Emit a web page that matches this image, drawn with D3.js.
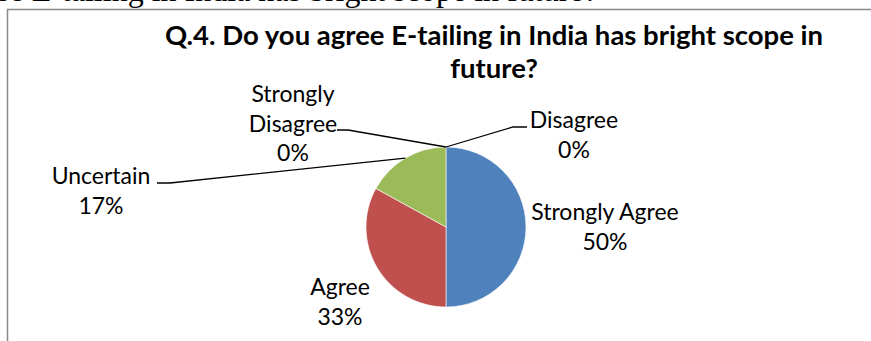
<!DOCTYPE html>
<html>
<head>
	<meta charset="utf-8">
	<script src="https://cdnjs.cloudflare.com/ajax/libs/d3/7.8.5/d3.min.js"></script>
	<style>
		body {
			margin: 0;
			background: white;
			font-family: Lato, "Open Sans", sans-serif;
		}
		svg { display: block; }
		.lbl { font-size: 23px; fill: #000; }
		.title { font-size: 27.5px; font-weight: 700; fill: #000; }
	</style>
</head>
<body>
	<svg width="871" height="341"></svg>
	<script>
	// data
	var categories = ["Strongly Agree", "Agree", "Uncertain", "Strongly Disagree", "Disagree"];
	var values = [50, 33, 17, 0, 0];
	var percentLabels = ["50%", "33%", "17%", "0%", "0%"];
	var colors = ["#4F81BD", "#C0504D", "#9BBB59", "#8064A2", "#4BACC6"];

	var titleLines = ["Q.4. Do you agree E-tailing in India has bright scope in", "future?"];

	var svg = d3.select("svg");

	// cut-off line of the surrounding document text
	svg.append("text")
		.attr("x", -3)
		.attr("y", 1)
		.style("font-family", "'Liberation Serif', 'DejaVu Serif', serif")
		.style("font-size", "32px")
		.text("se E-tailing in India has bright scope in future?");

	// chart frame (only left and top edges are visible)
	svg.append("path")
		.attr("d", "M7.5,341 V9.5 H871")
		.attr("fill", "none")
		.attr("stroke", "#898989")
		.attr("stroke-width", 1.5);

	// title
	svg.selectAll(".title")
		.data(titleLines)
		.enter()
		.append("text")
		.attr("class", "title")
		.attr("x", 494)
		.attr("y", function(d, i) { return 45 + i * 33; })
		.attr("text-anchor", "middle")
		.text(function(d) { return d; });

	//pie
	var cx = 446, cy = 227, r = 80;
	var g = svg.append("g").attr("transform", "translate(" + cx + "," + cy + ")");

	var pie = d3.pie().sort(null).value(function(d) { return d; });
	var arcs = pie(values);
	var arc = d3.arc().innerRadius(0).outerRadius(r);

	g.selectAll(".slice")
		.data(arcs)
		.enter()
		.append("path")
		.attr("class", "slice")
		.attr("d", arc)
		.attr("fill", function(d, i) { return colors[i]; })
		.attr("stroke", "white")
		.attr("stroke-width", function(d) { return d.value > 0 ? 0.6 : 0; });

	// label layout (relative to pie centre): first baseline, leader start + elbow
	var labelPos = [
		{x: 159, y: -7, lines: ["Strongly Agree"], leader: null},
		{x: -106, y: 68, lines: ["Agree"], leader: null},
		{x: -345, y: -43, lines: ["Uncertain"], leader: [-289, -44, -276, -44]},
		{x: -153, y: -125, lines: ["Strongly", "Disagree"], leader: [-109, -97, -98, -97]},
		{x: 128, y: -99, lines: ["Disagree"], leader: [81, -100, 67, -100]}
	];

	function edgePoint(d) {
		var a = (d.startAngle + d.endAngle) / 2;
		return [Math.sin(a) * r, -Math.cos(a) * r];
	}

	// leader lines
	arcs.forEach(function(d, i) {
		var p = labelPos[i];
		if (!p.leader) return;
		var e = edgePoint(d);
		g.append("polyline")
			.attr("points", [[p.leader[0], p.leader[1]], [p.leader[2], p.leader[3]], e].join(" "))
			.attr("fill", "none")
			.attr("stroke", "#000")
			.attr("stroke-width", 1.3);
	});

	// labels
	arcs.forEach(function(d, i) {
		var p = labelPos[i];
		var t = g.append("text")
			.attr("class", "lbl")
			.attr("text-anchor", "middle")
			.attr("x", p.x)
			.attr("y", p.y);
		var lines = p.lines.concat([percentLabels[i]]);
		lines.forEach(function(l, j) {
			t.append("tspan")
				.attr("x", p.x)
				.attr("dy", j === 0 ? 0 : 29.5)
				.text(l);
		});
	});
	</script>
</body>
</html>
